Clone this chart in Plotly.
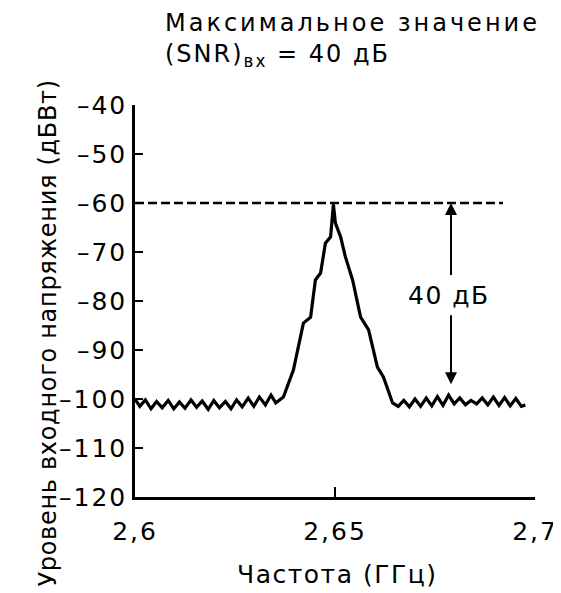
import plotly.graph_objects as go

# ---- data ----
freq_ghz = [2.6000, 2.6012, 2.6026, 2.6040, 2.6054, 2.6068, 2.6083, 2.6097, 2.6111, 2.6125,
            2.6140, 2.6154, 2.6168, 2.6183, 2.6197, 2.6211, 2.6226, 2.6240, 2.6254, 2.6268,
            2.6283, 2.6297, 2.6311, 2.6326, 2.6340, 2.6352,
            2.6371, 2.6396, 2.6421, 2.6439, 2.6451, 2.6464, 2.6476, 2.6489, 2.6496,
            2.6501, 2.6514, 2.6526, 2.6544, 2.6564, 2.6584, 2.6606, 2.6621, 2.6644,
            2.6658, 2.6672, 2.6686, 2.6700, 2.6714, 2.6728, 2.6742, 2.6756, 2.6770, 2.6784,
            2.6798, 2.6812, 2.6826, 2.6840, 2.6854, 2.6868, 2.6882, 2.6896, 2.6910, 2.6924,
            2.6938, 2.6952, 2.6966, 2.6976]
level_dbw = [-100.0, -101.5, -100.2, -102.0, -100.5, -101.8, -100.3, -102.0, -100.6, -101.9,
             -100.2, -101.7, -100.4, -102.1, -100.3, -101.8, -100.5, -102.0, -100.2, -101.6,
             -99.8, -101.5, -99.6, -101.2, -99.2, -100.8,
             -99.6, -94.1, -84.5, -83.3, -75.7, -74.3, -68.2, -66.9, -60.3,
             -64.1, -66.9, -71.0, -75.7, -83.3, -85.9, -93.5, -95.5, -100.8,
             -101.5, -100.3, -101.6, -100.0, -101.5, -99.8, -101.4, -99.5, -101.3, -99.2,
             -101.0, -99.8, -101.2, -100.3, -101.0, -99.8, -101.2, -99.6, -101.3, -99.7,
             -101.4, -99.9, -101.5, -101.2]

max_line_x = [2.6, 2.692]
max_line_y = [-60, -60]

snr_arrow_x = 2.679
snr_top = -60
snr_bottom = -97
snr_label = "40 дБ"

y_tickvals = [-40, -50, -60, -70, -80, -90, -100, -110, -120]
y_ticktext = ["–40", "–50", "–60", "–70", "–80", "–90", "–100", "–110", "–120"]
x_tickvals = [2.6, 2.65, 2.7]
x_ticktext = ["2,6", "2,65", "2,7"]

title_line1 = "Максимальное значение"
title_line2 = "(SNR)<sub>вх</sub> = 40 дБ"
x_title = "Частота (ГГц)"
y_title = "Уровень входного напряжения (дБВт)"

FONT = "DejaVu Sans"
PAGE_OFFSET = 8  # default body margin of the html page


def spaced(txt, px):
    return "<span style='letter-spacing:%spx'>%s</span>" % (px, txt)


fig = go.Figure()
fig.add_trace(go.Scatter(x=max_line_x, y=max_line_y, mode="lines",
                         line=dict(color="black", width=2.5, dash="9px,4px"),
                         hoverinfo="skip", showlegend=False))
fig.add_trace(go.Scatter(x=freq_ghz, y=level_dbw, mode="lines",
                         line=dict(color="black", width=3.2),
                         showlegend=False))

label_y = (snr_top + snr_bottom) / 2 - 0.3
fig.add_annotation(x=snr_arrow_x - 0.0005, y=label_y, text=spaced(snr_label, 1.5), showarrow=False,
                   xref="x", yref="y", font=dict(family=FONT, size=25, color="black"))
fig.add_annotation(x=snr_arrow_x, y=snr_top, ax=snr_arrow_x, ay=label_y + 3.8,
                   xref="x", yref="y", axref="x", ayref="y", text="",
                   showarrow=True, arrowhead=2, arrowsize=1.2, arrowwidth=2, arrowcolor="black")
fig.add_annotation(x=snr_arrow_x, y=snr_bottom, ax=snr_arrow_x, ay=label_y - 3.8,
                   xref="x", yref="y", axref="x", ayref="y", text="",
                   showarrow=True, arrowhead=2, arrowsize=1.2, arrowwidth=2, arrowcolor="black")

fig.add_annotation(x=0.07, y=1.165, xref="paper", yref="paper", xanchor="left", yanchor="middle",
                   align="left",
                   text=spaced(title_line1, 3) + "<br>" + spaced(title_line2, 2),
                   showarrow=False, font=dict(family=FONT, size=24, color="black"))
fig.add_annotation(x=-0.2575, y=0.417, xref="paper", yref="paper", textangle=-90,
                   text=spaced(y_title, 0.7), showarrow=False,
                   font=dict(family=FONT, size=24, color="black"))
fig.add_annotation(x=0.505, y=-0.24, xref="paper", yref="paper",
                   text=spaced(x_title, 1.5), showarrow=False,
                   font=dict(family=FONT, size=25, color="black"))

fig.update_layout(
    width=561 - PAGE_OFFSET, height=593 - PAGE_OFFSET,
    margin=dict(l=135 - PAGE_OFFSET, r=26, t=105 - PAGE_OFFSET, b=96),
    paper_bgcolor="white", plot_bgcolor="white",
    font=dict(family=FONT, size=24, color="black"),
    xaxis=dict(range=[2.6, 2.7], tickvals=x_tickvals,
               ticktext=[spaced(t, 2) for t in x_ticktext],
               ticks="inside", ticklen=10, tickwidth=2, tickcolor="black",
               showline=True, linecolor="black", linewidth=2.5, showgrid=False, zeroline=False,
               ticklabelstandoff=10, tickfont=dict(family=FONT, size=25), automargin=False),
    yaxis=dict(range=[-120, -40], tickvals=y_tickvals,
               ticktext=[spaced(t, 2) for t in y_ticktext],
               ticks="inside", ticklen=8, tickwidth=2, tickcolor="black",
               showline=True, linecolor="black", linewidth=2.5, showgrid=False, zeroline=False,
               ticklabelstandoff=0, tickfont=dict(family=FONT, size=25), automargin=False),
)

fig.write_html("out.html")
